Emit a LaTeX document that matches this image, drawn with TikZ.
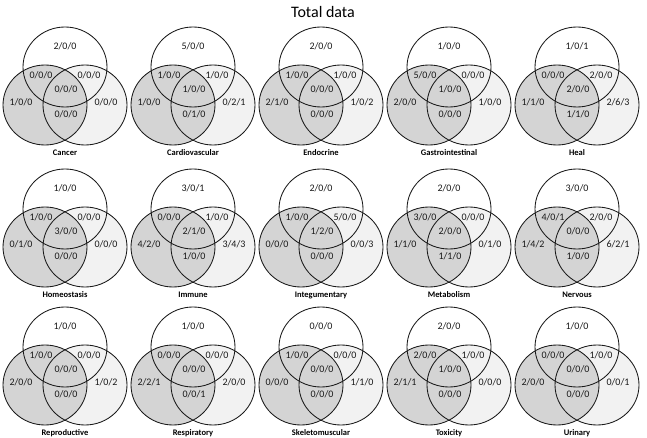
\documentclass[tikz,border=0pt]{standalone}
\usepackage{fontspec}
\setmainfont{Carlito}
\definecolor{darkfill}{RGB}{212,212,212}
\definecolor{lightfill}{RGB}{242,242,242}
\tikzset{
  num/.style={font=\fontsize{10}{11}\selectfont, inner sep=0pt, text=black!90},
  lab/.style={font=\fontsize{8.5}{10}\selectfont\bfseries, inner sep=0pt},
  titlestyle/.style={font=\fontsize{16}{17}\selectfont, inner sep=0pt},
  vennline/.style={draw=black!90, line width=0.85pt},
  topset/.style={fill=white},
  leftset/.style={fill=darkfill},
  rightset/.style={fill=lightfill},
  vradius/.style={x radius=42pt, y radius=40pt},
}
\newcommand\venlabely{86}
% #1 position, #2 label/name, #3 top, #4 top-left, #5 top-right, #6 centre, #7 left, #8 right, #9 bottom
\newcommand\venndiag[9]{%
  \begin{scope}[shift={(#1)}]
    \fill[topset] (0,0) ellipse [vradius];
    \fill[rightset] (20,38) ellipse [vradius];
    \fill[leftset] (-20,38) ellipse [vradius];
    \draw[vennline] (0,0) ellipse [vradius];
    \draw[vennline] (-20,38) ellipse [vradius];
    \draw[vennline] (20,38) ellipse [vradius];
    \node[num] (#2-t)  at (0,-21) {#3};
    \node[num] (#2-tl) at (-24,8) {#4};
    \node[num] (#2-tr) at (24,8)  {#5};
    \node[num] (#2-c)  at (1,22)  {#6};
    \node[num] (#2-l)  at (-44,35) {#7};
    \node[num] (#2-r)  at (41,35) {#8};
    \node[num] (#2-b)  at (1,47)  {#9};
    \node[lab] (#2-name) at (0,\venlabely) {#2};
  \end{scope}}
\begin{document}
\begin{tikzpicture}[x=1pt,y=-1pt]
  \fill[white] (0,0) rectangle (647,438);
  \useasboundingbox (0,0) rectangle (647,438);
  \node[titlestyle] (title) at (323,12) {Total data};
  % row 1
  \venndiag{65,67}{Cancer}{2/0/0}{0/0/0}{0/0/0}{0/0/0}{1/0/0}{0/0/0}{0/0/0}
  \venndiag{193,67}{Cardiovascular}{5/0/0}{1/0/0}{1/0/0}{1/0/0}{1/0/0}{0/2/1}{0/1/0}
  \venndiag{321,67}{Endocrine}{2/0/0}{1/0/0}{1/0/0}{0/0/0}{2/1/0}{1/0/2}{0/0/0}
  \venndiag{449,67}{Gastrointestinal}{1/0/0}{5/0/0}{0/0/0}{1/0/0}{2/0/0}{1/0/0}{0/0/0}
  \venndiag{577,67}{Heal}{1/0/1}{0/0/0}{2/0/0}{2/0/0}{1/1/0}{2/6/3}{1/1/0}
  % row 2
  \venndiag{65,209}{Homeostasis}{1/0/0}{1/0/0}{0/0/0}{3/0/0}{0/1/0}{0/0/0}{0/0/0}
  \venndiag{193,209}{Immune}{3/0/1}{0/0/0}{1/0/0}{2/1/0}{4/2/0}{3/4/3}{1/0/0}
  \venndiag{321,209}{Integumentary}{2/0/0}{1/0/0}{5/0/0}{1/2/0}{0/0/0}{0/0/3}{0/0/0}
  \venndiag{449,209}{Metabolism}{2/0/0}{3/0/0}{0/0/0}{2/0/0}{1/1/0}{0/1/0}{1/1/0}
  \venndiag{577,209}{Nervous}{3/0/0}{4/0/1}{2/0/0}{0/0/0}{1/4/2}{6/2/1}{1/0/0}
  % row 3
  \venndiag{65,347}{Reproductive}{1/0/0}{1/0/0}{0/0/0}{0/0/0}{2/0/0}{1/0/2}{0/0/0}
  \venndiag{193,347}{Respiratory}{1/0/0}{0/0/0}{0/0/0}{0/0/0}{2/2/1}{2/0/0}{0/0/1}
  \venndiag{321,347}{Skeletomuscular}{0/0/0}{1/0/0}{0/0/0}{0/0/0}{0/0/0}{1/1/0}{0/0/0}
  \venndiag{449,347}{Toxicity}{2/0/0}{2/0/0}{1/0/0}{1/0/0}{2/1/1}{0/0/0}{0/0/0}
  \venndiag{577,347}{Urinary}{1/0/0}{0/0/0}{1/0/0}{0/0/0}{2/0/0}{0/0/1}{0/0/0}
\end{tikzpicture}
\end{document}
